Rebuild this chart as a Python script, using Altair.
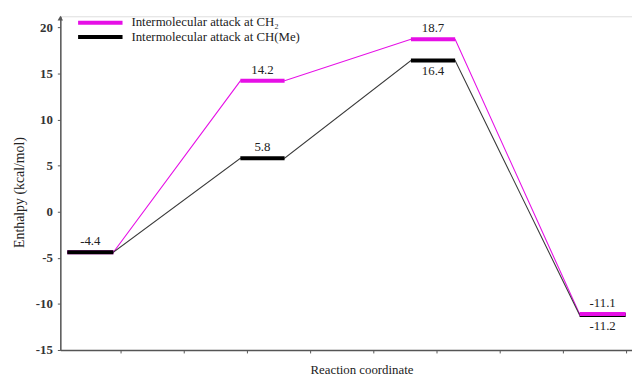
import altair as alt
import pandas as pd

# ---- data ----
series_names = ["Intermolecular attack at CH\u2082", "Intermolecular attack at CH(Me)"]
stage_start = [0.16, 2.9, 5.6, 8.27]   # reaction-coordinate start of each level
stage_end = [0.89, 3.6, 6.3, 9.0]      # reaction-coordinate end of each level
enthalpy_ch2 = [-4.4, 14.2, 18.7, -11.1]
enthalpy_chme = [-4.4, 5.8, 16.4, -11.2]
label_ch2 = ["", "14.2", "18.7", "-11.1"]
label_chme = ["-4.4", "5.8", "16.4", "-11.2"]
side_ch2 = ["", "above", "above", "above"]
side_chme = ["above", "above", "below", "below"]
y_ticks = [-15, -10, -5, 0, 5, 10, 15, 20]
x_ticks = [1, 2, 3, 4, 5, 6, 7, 8, 9]

PINK = "#e60fe6"
BLACK = "#000000"
FONT = "Times New Roman, Liberation Serif, Times, serif"

# connector path points
line_rows = []
for name, vals in [(series_names[0], enthalpy_ch2), (series_names[1], enthalpy_chme)]:
    k = 0
    for i, v in enumerate(vals):
        line_rows.append({"series": name, "x": stage_start[i], "y": v, "ord": k}); k += 1
        line_rows.append({"series": name, "x": stage_end[i], "y": v, "ord": k}); k += 1
lines_df = pd.DataFrame(line_rows)

# level rows, ordered for drawing (overlaps)
level_rows = []
def add_level(s, i):
    vals = enthalpy_ch2 if s == 0 else enthalpy_chme
    level_rows.append({"series": series_names[s], "x": stage_start[i], "x2": stage_end[i], "y": vals[i]})
add_level(0, 0); add_level(1, 0)
for i in (1, 2, 3):
    add_level(1, i)
for i in (1, 2, 3):
    add_level(0, i)
levels_df = pd.DataFrame(level_rows)

lab_rows = []
for labs, sides, vals in [(label_ch2, side_ch2, enthalpy_ch2), (label_chme, side_chme, enthalpy_chme)]:
    for i in range(4):
        if labs[i]:
            lab_rows.append({"xm": (stage_start[i] + stage_end[i]) / 2, "y": vals[i],
                             "label": labs[i], "side": sides[i]})
labels_df = pd.DataFrame(lab_rows)

xscale = alt.Scale(domain=[0.05, 9.1], nice=False, zero=False)
yscale = alt.Scale(domain=[-15, 21.2], nice=False, zero=False)

x_axis = alt.Axis(values=x_ticks, labels=False, title="Reaction coordinate", grid=False,
                  tickSize=3, domainColor="#555", tickColor="#555", domainWidth=1.5,
                  titleFont=FONT, titleFontSize=13, titleFontWeight="normal", titleColor="#222",
                  titleX=305, titleY=20, titleBaseline="middle")
y_axis = alt.Axis(values=y_ticks, title="Enthalpy (kcal/mol)", grid=False,
                  tickSize=3, domainColor="#555", tickColor="#555", domainWidth=1.5,
                  labelFont=FONT, labelFontSize=13, labelFontWeight="bold", labelColor="#333",
                  labelPadding=5,
                  labelExpr="datum.value < 0 ? '-' + abs(datum.value) : '' + datum.value",
                  titleFont=FONT, titleFontSize=14, titleFontWeight="normal", titleColor="#222",
                  titleX=-41.5, titleY=178, titleBaseline="middle")

lines = alt.Chart(lines_df).mark_line(strokeWidth=1.1).encode(
    x=alt.X("x:Q", scale=xscale, axis=x_axis),
    y=alt.Y("y:Q", scale=yscale, axis=y_axis),
    color=alt.Color("series:N", scale=alt.Scale(domain=series_names, range=[PINK, "#3a3a3a"]), legend=None),
    order="ord:Q",
)

levels = alt.Chart(levels_df).mark_rule(strokeWidth=4).encode(
    x=alt.X("x:Q", scale=xscale),
    x2="x2:Q",
    y=alt.Y("y:Q", scale=yscale),
    color=alt.Color("series:N", scale=alt.Scale(domain=series_names, range=[PINK, BLACK]), legend=None),
)

above = alt.Chart(labels_df).transform_filter(alt.datum.side == "above").mark_text(
    font=FONT, fontSize=13, color="#222", baseline="bottom", dy=-4).encode(
    x=alt.X("xm:Q", scale=xscale), y=alt.Y("y:Q", scale=yscale), text="label:N")
below = alt.Chart(labels_df).transform_filter(alt.datum.side == "below").mark_text(
    font=FONT, fontSize=13, color="#222", baseline="top", dy=5).encode(
    x=alt.X("xm:Q", scale=xscale), y=alt.Y("y:Q", scale=yscale), text="label:N")

arrow_df = pd.DataFrame({"x": [0.05], "y": [21.0]})
arrow = alt.Chart(arrow_df).mark_point(shape="triangle-up", filled=True, size=30,
                                       color="#555", opacity=1).encode(
    x=alt.X("x:Q", scale=xscale), y=alt.Y("y:Q", scale=yscale))

leg_df = pd.DataFrame({"series": series_names, "row": [0, 1]})
leg_line0 = alt.Chart(leg_df).transform_filter(alt.datum.row == 0).mark_rule(
    strokeWidth=4, color=PINK).encode(x=alt.value(18), x2=alt.value(63), y=alt.value(6.5))
leg_line1 = alt.Chart(leg_df).transform_filter(alt.datum.row == 1).mark_rule(
    strokeWidth=4, color=BLACK).encode(x=alt.value(18), x2=alt.value(63), y=alt.value(21))
leg_txt0 = alt.Chart(leg_df).transform_filter(alt.datum.row == 0).mark_text(
    font=FONT, fontSize=13, color="#222", align="left", baseline="middle").encode(
    x=alt.value(72), y=alt.value(6), text="series:N")
leg_txt1 = alt.Chart(leg_df).transform_filter(alt.datum.row == 1).mark_text(
    font=FONT, fontSize=13, color="#222", align="left", baseline="middle").encode(
    x=alt.value(72), y=alt.value(21), text="series:N")

chart = alt.layer(
    lines, levels, above, below, arrow, leg_line0, leg_line1, leg_txt0, leg_txt1
).resolve_scale(color="independent").properties(
    width=579, height=338,
    autosize=alt.AutoSizeParams(type="none"),
    padding={"left": 53, "top": 6, "right": 0, "bottom": 27},
).configure_view(stroke=None).configure(background="white")

chart.save("out.html", embed_options={"renderer": "svg", "actions": False})
